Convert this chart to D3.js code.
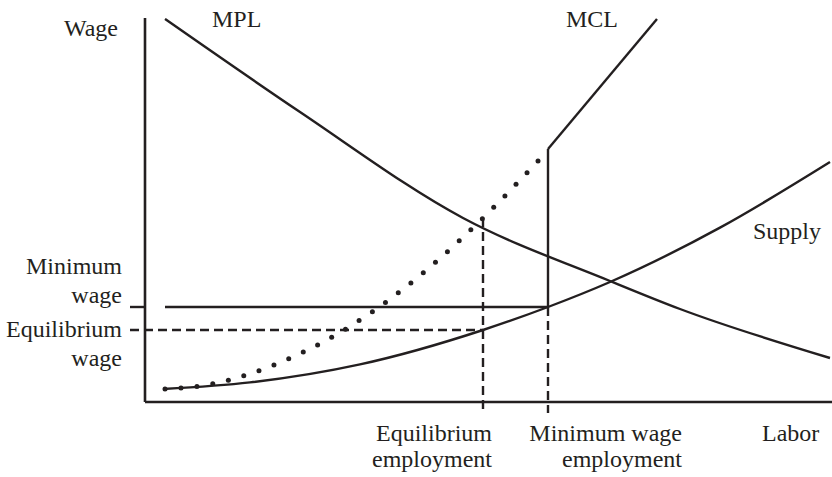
<!DOCTYPE html>
<meta charset="utf-8">
<style>
body { margin: 0; background: #fff; }
svg { display: block; }
text { font-family: "Liberation Serif", "Times New Roman", serif; font-size: 24px; fill: #231f20; }
.curve { fill: none; stroke: #231f20; stroke-width: 2.4; }
</style>
<body></body>
<script src="https://d3js.org/d3.v7.min.js"></script>
<script>

// Curves in chart units (labor, wage)
var supplyPts = [[3.6, 3.25], [21, 4.9], [43, 9.4], [67.6, 18], [80.6, 23.75], [93, 30], [115, 43.6], [137, 60]];
var mplPts = [[4, 95.75], [31, 72.5], [63.6, 46], [93, 30.25], [107, 23.25], [137, 11]];
var mclDotPts = [[4, 3.25], [13.4, 4.5], [19.6, 6.5], [25.8, 9.25], [43, 20.5], [55.6, 32.25], [67.6, 46], [78.6, 60.25]];
var mclSolidPts = [[80.6, 63.25], [102.4, 95.75]];

// Key levels
var eqEmployment = 67.6, minEmployment = 80.6;
var eqWage = 18, minWage = 23.75;
var mplAtEq = 46;

var width = 832, height = 477;

var x = d3.scaleLinear().domain([0, 137]).range([145, 830]);
var y = d3.scaleLinear().domain([0, 96]).range([402, 18]);

var svg = d3.select("body").append("svg")
    .attr("width", width)
    .attr("height", height);

var line = d3.line()
    .x(function(d) { return x(d[0]); })
    .y(function(d) { return y(d[1]); })
    .curve(d3.curveMonotoneX);

function seg(x1, y1, x2, y2, dash) {
  var l = svg.append("line")
    .attr("x1", x(x1)).attr("y1", y(y1))
    .attr("x2", x(x2)).attr("y2", y(y2))
    .attr("stroke", "#231f20")
    .attr("stroke-width", 2.4);
  if (dash) l.attr("stroke-dasharray", dash);
  return l;
}

// dashed guide lines
seg(-3, eqWage, eqEmployment, eqWage, "9,5");
seg(eqEmployment, mplAtEq, eqEmployment, -2.75, "9,5");
seg(minEmployment, minWage, minEmployment, -2.75, "9,5");

// minimum wage line + tick
seg(-3, minWage, 0, minWage);
seg(4, minWage, minEmployment, minWage);
seg(minEmployment, minWage, minEmployment, mclSolidPts[0][1]);

// axes
seg(0, 0, 0, 96).attr("stroke-width", 2.6);
seg(0, 0, 137.4, 0).attr("stroke-width", 2.6);

// curves
svg.append("path").attr("class", "curve").attr("d", line(supplyPts));
svg.append("path").attr("class", "curve").attr("d", line(mplPts));
svg.append("path").attr("class", "curve").attr("d", line(mclSolidPts));

// dotted part of MCL: round dots placed along the curve
var dotPath = svg.append("path").attr("d", line(mclDotPts))
    .attr("fill", "none").attr("stroke", "none");
var node = dotPath.node();
var len = node.getTotalLength();
var n = Math.round(len / 16);
var dots = d3.range(n + 1).map(function(i) { return node.getPointAtLength(len * i / n); });
svg.selectAll(".mcl-dot").data(dots).enter().append("circle")
    .attr("class", "mcl-dot")
    .attr("cx", function(d) { return d.x; })
    .attr("cy", function(d) { return d.y; })
    .attr("r", 2.5)
    .attr("fill", "#231f20");

// labels
function label(t, px, py, anchor) {
  svg.append("text").attr("x", px).attr("y", py)
    .attr("text-anchor", anchor || "start").text(t);
}
label("Wage", 118, 36, "end");
label("MPL", 212, 27);
label("MCL", 566, 27);
label("Supply", 753, 239);
label("Minimum", 122, 274, "end");
label("wage", 122, 303, "end");
label("Equilibrium", 122, 337, "end");
label("wage", 122, 366, "end");
label("Equilibrium", 492, 441, "end");
label("employment", 492, 467, "end");
label("Minimum wage", 682, 441, "end");
label("employment", 682, 467, "end");
label("Labor", 762, 441);

</script>
